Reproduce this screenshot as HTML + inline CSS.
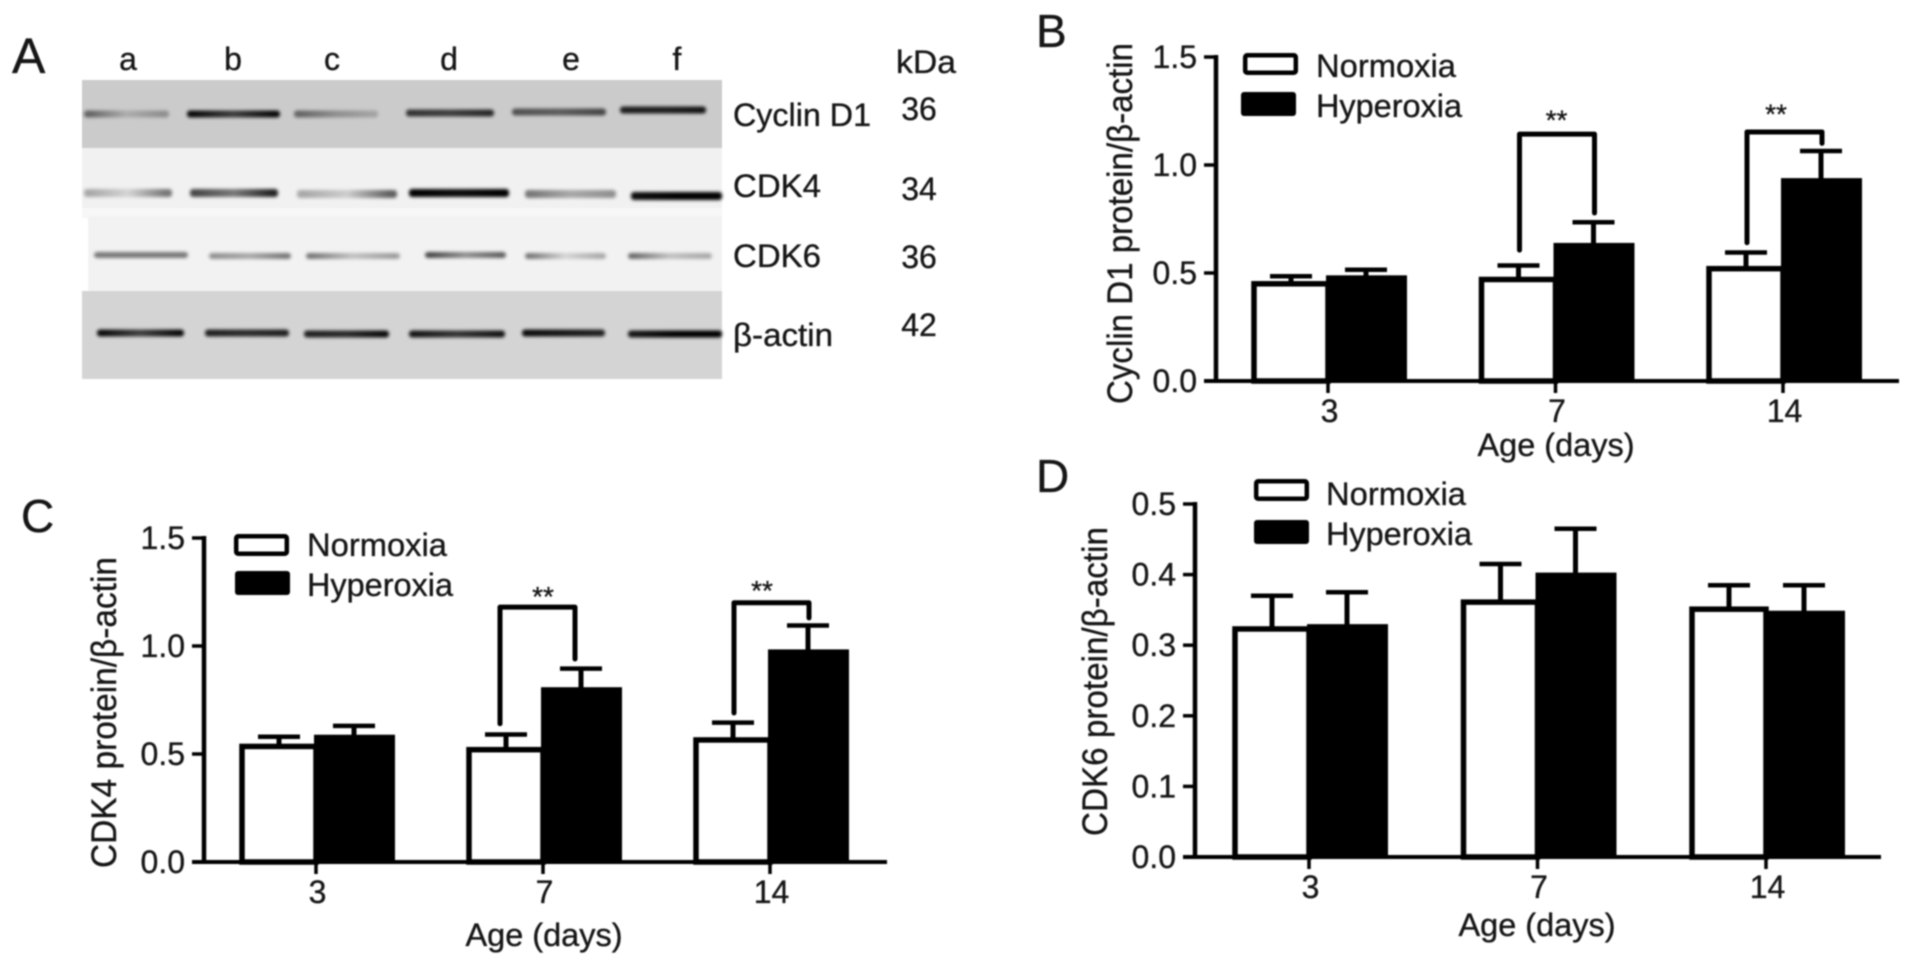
<!DOCTYPE html>
<html lang="en">
<head>
<meta charset="utf-8">
<title>Cell cycle protein expression under normoxia and hyperoxia</title>
<style>
html,body{margin:0;padding:0;background:#fff;width:1913px;height:965px;overflow:hidden}
svg{display:block;filter:blur(0.8px)}
text{font-family:"Liberation Sans",sans-serif;fill:#161616;stroke:#161616;stroke-width:0.35px;font-size:32px}
.ytitle{font-size:35px}
</style>
</head>
<body>
<svg id="figure" xmlns="http://www.w3.org/2000/svg" width="1913" height="965" viewBox="0 0 1913 965">
  <defs id="defs">
    <filter id="band-blur" x="-20%" y="-200%" width="140%" height="500%"><feGaussianBlur stdDeviation="1.6 1.5"/></filter>
  </defs>
  <rect width="1913" height="965" fill="#fff"/>

  <g id="panel-a">
    <text x="12" y="73" style="font-size:50px">A</text>
    <rect x="82" y="80" width="640" height="68" fill="#cbcbcb"/>
    <rect x="82" y="148" width="640" height="60" fill="#f1f1f1"/>
    <rect x="82" y="208" width="640" height="10" fill="#f7f7f7"/>
    <rect x="88" y="216" width="634" height="76" fill="#f2f2f2"/>
    <rect x="82" y="291" width="640" height="88" fill="#d4d4d4"/>
    <g id="bands" filter="url(#band-blur)"></g>
    <text x="128" y="70" text-anchor="middle">a</text>
    <text x="233" y="70" text-anchor="middle">b</text>
    <text x="332" y="70" text-anchor="middle">c</text>
    <text x="449" y="70" text-anchor="middle">d</text>
    <text x="571" y="70" text-anchor="middle">e</text>
    <text x="677" y="70" text-anchor="middle">f</text>
    <text x="926" y="73" text-anchor="middle" textLength="60" lengthAdjust="spacingAndGlyphs">kDa</text>
    <text x="733" y="126" textLength="138" lengthAdjust="spacingAndGlyphs">Cyclin D1</text>
    <text x="733" y="197" textLength="88" lengthAdjust="spacingAndGlyphs">CDK4</text>
    <text x="733" y="267" textLength="88" lengthAdjust="spacingAndGlyphs">CDK6</text>
    <text x="733" y="346" textLength="100" lengthAdjust="spacingAndGlyphs">β-actin</text>
    <text x="919" y="120" text-anchor="middle">36</text>
    <text x="919" y="200" text-anchor="middle">34</text>
    <text x="919" y="268" text-anchor="middle">36</text>
    <text x="919" y="336" text-anchor="middle">42</text>
  </g>

  <g id="panel-b">
    <text x="1036" y="47" style="font-size:46px">B</text>
    <text class="ytitle" transform="translate(1132,404) rotate(-90)" textLength="361" lengthAdjust="spacingAndGlyphs">Cyclin D1 protein/β-actin</text>
    <text x="1556" y="456" text-anchor="middle" textLength="157" lengthAdjust="spacingAndGlyphs">Age (days)</text>
    <rect x="1245.2" y="55.2" width="50.6" height="17.6" rx="2" fill="#fff" stroke="#000" stroke-width="4.5"/>
    <rect x="1241" y="92" width="55" height="24" rx="3" fill="#000"/>
    <text x="1316" y="77" textLength="140" lengthAdjust="spacingAndGlyphs">Normoxia</text>
    <text x="1316" y="117" textLength="146" lengthAdjust="spacingAndGlyphs">Hyperoxia</text>
  </g>

  <g id="panel-c">
    <text x="21" y="532" style="font-size:46px">C</text>
    <text class="ytitle" transform="translate(116,868) rotate(-90)" textLength="311" lengthAdjust="spacingAndGlyphs">CDK4 protein/β-actin</text>
    <text x="544" y="946" text-anchor="middle" textLength="157" lengthAdjust="spacingAndGlyphs">Age (days)</text>
    <rect x="236.2" y="536.2" width="50.6" height="17.6" rx="2" fill="#fff" stroke="#000" stroke-width="4.5"/>
    <rect x="235" y="571" width="55" height="24" rx="3" fill="#000"/>
    <text x="307" y="556" textLength="140" lengthAdjust="spacingAndGlyphs">Normoxia</text>
    <text x="307" y="596" textLength="146" lengthAdjust="spacingAndGlyphs">Hyperoxia</text>
  </g>

  <g id="panel-d">
    <text x="1036" y="492" style="font-size:46px">D</text>
    <text class="ytitle" transform="translate(1107,836) rotate(-90)" textLength="309" lengthAdjust="spacingAndGlyphs">CDK6 protein/β-actin</text>
    <text x="1537" y="936" text-anchor="middle" textLength="157" lengthAdjust="spacingAndGlyphs">Age (days)</text>
    <rect x="1256.2" y="481.2" width="50.6" height="17.6" rx="2" fill="#fff" stroke="#000" stroke-width="4.5"/>
    <rect x="1254" y="520" width="55" height="24" rx="3" fill="#000"/>
    <text x="1326" y="505" textLength="140" lengthAdjust="spacingAndGlyphs">Normoxia</text>
    <text x="1326" y="545" textLength="146" lengthAdjust="spacingAndGlyphs">Hyperoxia</text>
  </g>
</svg>

<script>
var categories = ['3', '7', '14'];

var ticksB = ['0.0', '0.5', '1.0', '1.5'];
var normoxiaB = [0.45, 0.47, 0.52];
var normoxiaErrB = [0.485, 0.535, 0.595];
var hyperoxiaB = [0.48, 0.63, 0.93];
var hyperoxiaErrB = [0.515, 0.735, 1.065];
var bracketTopB = [null, 1.143, 1.153];
var bracketLeftEndB = [null, 0.606, 0.64];
var bracketRightEndB = [null, 0.778, 1.10];
var starLevelB = [null, 1.164, 1.192];

var ticksC = ['0.0', '0.5', '1.0', '1.5'];
var normoxiaC = [0.535, 0.52, 0.565];
var normoxiaErrC = [0.58, 0.59, 0.645];
var hyperoxiaC = [0.58, 0.80, 0.975];
var hyperoxiaErrC = [0.63, 0.895, 1.095];
var bracketTopC = [null, 1.18, 1.2];
var bracketLeftEndC = [null, 0.64, 0.69];
var bracketRightEndC = [null, 0.94, 1.13];
var starLevelC = [null, 1.185, 1.213];

var ticksD = ['0.0', '0.1', '0.2', '0.3', '0.4', '0.5'];
var normoxiaD = [0.323, 0.361, 0.351];
var normoxiaErrD = [0.37, 0.415, 0.385];
var hyperoxiaD = [0.327, 0.400, 0.346];
var hyperoxiaErrD = [0.375, 0.465, 0.385];

var bandRows = ['cyclin-d1', 'cdk4', 'cdk6', 'beta-actin'];
var bandDensityCyclin = [[0.5, 0.15, 0.3], [0.95, 0.7, 0.95], [0.5, 0.3, 0.2], [0.75, 0.7, 0.8], [0.6, 0.55, 0.65], [0.85, 0.85, 0.9]];
var bandDensityCdk4 = [[0.3, 0.12, 0.5], [0.7, 0.5, 0.85], [0.3, 0.15, 0.6], [1, 0.95, 1], [0.5, 0.3, 0.4], [0.95, 1, 1]];
var bandDensityCdk6 = [[0.5, 0.5, 0.5], [0.4, 0.3, 0.5], [0.5, 0.2, 0.35], [0.7, 0.4, 0.6], [0.5, 0.12, 0.3], [0.55, 0.2, 0.3]];
var bandDensityActin = [[0.95, 0.7, 0.95], [0.85, 0.8, 0.85], [0.85, 0.8, 0.95], [0.9, 0.75, 0.9], [0.95, 0.9, 0.85], [0.9, 1, 1]];

var NS = 'http://www.w3.org/2000/svg';

function make(parent, tag, attrs) {
  var node = document.createElementNS(NS, tag);
  for (var key in attrs) { node.setAttribute(key, attrs[key]); }
  parent.appendChild(node);
  return node;
}

function drawBands(row, density, left, right, ys, height) {
  var group = document.getElementById('bands');
  var defs = document.getElementById('defs');
  density.forEach(function (d, i) {
    var gradId = 'grad-' + row + '-' + i;
    var grad = make(defs, 'linearGradient', {id: gradId});
    make(grad, 'stop', {offset: '0.08', 'stop-color': '#000', 'stop-opacity': d[0]});
    make(grad, 'stop', {offset: '0.5', 'stop-color': '#000', 'stop-opacity': d[1]});
    make(grad, 'stop', {offset: '0.92', 'stop-color': '#000', 'stop-opacity': d[2]});
    var el = make(group, 'rect', {x: left[i], y: ys[i] - height / 2, width: right[i] - left[i], height: height, rx: 3, fill: 'url(#' + gradId + ')'});
    
    
  });
}

drawBands(bandRows[0], bandDensityCyclin, [84, 187, 294, 406, 512, 620], [169, 280, 378, 494, 606, 706], [114, 114, 114, 113, 112, 110], 7);
drawBands(bandRows[1], bandDensityCdk4, [84, 190, 297, 409, 525, 631], [172, 278, 397, 509, 616, 722], [193, 193, 194, 193, 194, 196], 8);
drawBands(bandRows[2], bandDensityCdk6, [94, 209, 306, 425, 525, 628], [188, 291, 400, 506, 606, 712], [255, 256, 256, 255, 256, 256], 6);
drawBands(bandRows[3], bandDensityActin, [97, 205, 304, 409, 522, 628], [184, 289, 389, 505, 605, 722], [333, 333, 334, 334, 333, 334], 7);

function drawChart(cfg) {
  var g = document.getElementById(cfg.id);
  var suffix = cfg.id.slice(-1);
  var maxV = parseFloat(cfg.ticks[cfg.ticks.length - 1]);
  function yScale(v) { return cfg.y0 - (v / maxV) * (cfg.y0 - cfg.yTop); }
  function xScale(i) { return cfg.x0 + cfg.step * i; }

  cfg.categories.forEach(function (cat, i) {
    var cx = xScale(i);

    var stemN = make(g, 'line', {x1: cx - 37, x2: cx - 37, y1: yScale(cfg.normoxia[i]), y2: yScale(cfg.normoxiaErr[i]), stroke: '#000', 'stroke-width': 5});
    
    
    var capN = make(g, 'line', {x1: cx - 58, x2: cx - 16, y1: yScale(cfg.normoxiaErr[i]), y2: yScale(cfg.normoxiaErr[i]), stroke: '#000', 'stroke-width': 4.5});
    
    

    var stemH = make(g, 'line', {x1: cx + 38, x2: cx + 38, y1: yScale(cfg.hyperoxia[i]), y2: yScale(cfg.hyperoxiaErr[i]), stroke: '#000', 'stroke-width': 5});
    
    
    var capH = make(g, 'line', {x1: cx + 17, x2: cx + 59, y1: yScale(cfg.hyperoxiaErr[i]), y2: yScale(cfg.hyperoxiaErr[i]), stroke: '#000', 'stroke-width': 4.5});
    
    

    var barN = make(g, 'rect', {x: cx - 74, y: yScale(cfg.normoxia[i]), width: 74, height: cfg.y0 - yScale(cfg.normoxia[i]), fill: '#fff', stroke: '#000', 'stroke-width': 5.5});
    
    

    var barH = make(g, 'rect', {x: cx - 2, y: yScale(cfg.hyperoxia[i]) - 2, width: 81, height: cfg.y0 - yScale(cfg.hyperoxia[i]) + 2, fill: '#000'});
    
    

    var tick = make(g, 'line', {x1: cx, x2: cx, y1: cfg.y0, y2: cfg.y0 + 12, stroke: '#000', 'stroke-width': 3.5});
    
    

    var label = make(g, 'text', {x: cx + 1.5, y: cfg.y0 + 41, 'text-anchor': 'middle'});
    label.textContent = cat;
    
    

    if (cfg.bracketTop && cfg.bracketTop[i] !== null) {
      var shift = cfg.bracketShift ? cfg.bracketShift[i] : 0;
      var lx = cx - 36 + shift, rx = cx + 39 + shift, ty = yScale(cfg.bracketTop[i]);
      var bracket = make(g, 'path', {d: 'M' + lx + ' ' + yScale(cfg.bracketLeftEnd[i]) + 'V' + ty + 'H' + rx + 'V' + yScale(cfg.bracketRightEnd[i]), fill: 'none', stroke: '#000', 'stroke-width': 5, 'stroke-linecap': 'round', 'stroke-linejoin': 'round'});
      
      
      var stars = make(g, 'text', {x: cx + cfg.starShift[i], y: yScale(cfg.starLevel[i]), 'text-anchor': 'middle', style: 'font-size:28px'});
      stars.textContent = '**';
      
      
    }
  });

  var yAxis = make(g, 'line', {x1: cfg.axisX, x2: cfg.axisX, y1: cfg.yTop - 2, y2: cfg.y0 + 2, stroke: '#000', 'stroke-width': 4.5});
  
  

  var xAxis = make(g, 'line', {x1: cfg.axisX - 12, x2: cfg.axisEnd, y1: cfg.y0, y2: cfg.y0, stroke: '#000', 'stroke-width': 4});
  
  

  cfg.ticks.forEach(function (t) {
    var y = yScale(parseFloat(t));
    var tick = make(g, 'line', {x1: cfg.axisX - 12, x2: cfg.axisX, y1: y, y2: y, stroke: '#000', 'stroke-width': 3.5});
    
    
    var label = make(g, 'text', {x: cfg.axisX - 19, y: y + 11, 'text-anchor': 'end'});
    label.textContent = t;
    
    
  });
}

drawChart({id: 'panel-b', categories: categories, ticks: ticksB, normoxia: normoxiaB, normoxiaErr: normoxiaErrB, hyperoxia: hyperoxiaB, hyperoxiaErr: hyperoxiaErrB, bracketTop: bracketTopB, bracketLeftEnd: bracketLeftEndB, bracketRightEnd: bracketRightEndB, starLevel: starLevelB, starShift: [0, 1, -7], axisX: 1216, axisEnd: 1899, y0: 381, yTop: 57, x0: 1328, step: 227.5});
drawChart({id: 'panel-c', categories: categories, ticks: ticksC, normoxia: normoxiaC, normoxiaErr: normoxiaErrC, hyperoxia: hyperoxiaC, hyperoxiaErr: hyperoxiaErrC, bracketTop: bracketTopC, bracketLeftEnd: bracketLeftEndC, bracketRightEnd: bracketRightEndC, starLevel: starLevelC, starShift: [0, 0, -8], bracketShift: [0, -7, 0], axisX: 204, axisEnd: 887, y0: 862, yTop: 538, x0: 316, step: 227});
drawChart({id: 'panel-d', categories: categories, ticks: ticksD, normoxia: normoxiaD, normoxiaErr: normoxiaErrD, hyperoxia: hyperoxiaD, hyperoxiaErr: hyperoxiaErrD, axisX: 1195, axisEnd: 1881, y0: 857, yTop: 504, x0: 1309, step: 228.5});
</script>
</body>
</html>
